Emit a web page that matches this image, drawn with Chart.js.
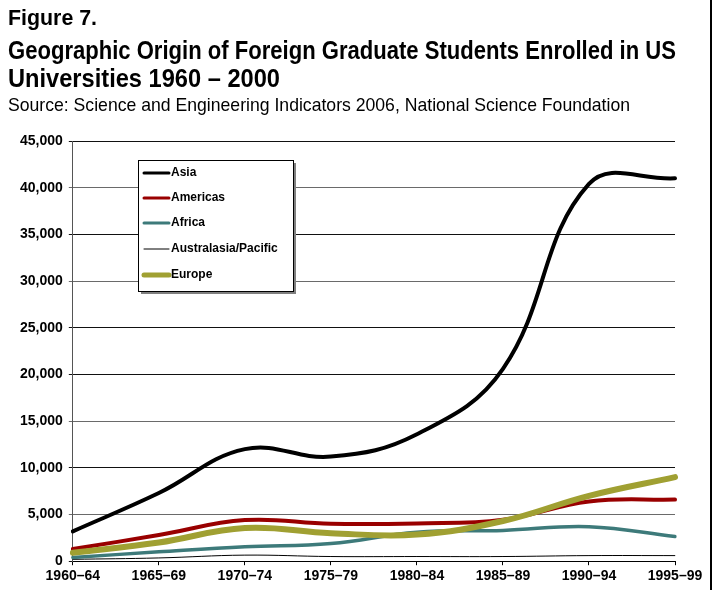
<!DOCTYPE html>
<html><head><meta charset="utf-8">
<script src="https://cdn.jsdelivr.net/npm/chart.js@4/dist/chart.umd.min.js"></script>
<style>
html,body{margin:0;padding:0;background:#fff;}
#wrap{position:relative;width:715px;height:590px;overflow:hidden;background:#fff;}
#c{position:absolute;left:0;top:0;}
.t{position:absolute;left:8px;white-space:nowrap;font-family:"Liberation Sans",Arial,sans-serif;color:#000;line-height:1;transform-origin:0 0;}
#frame{position:absolute;left:710px;top:0;width:2px;height:590px;background:#000;}
</style></head>
<body><div id="wrap">
<canvas id="c" width="715" height="590"></canvas>
<div class="t" data-w="89" style="top:7px;font-size:22px;font-weight:bold">Figure 7.</div>
<div class="t" data-w="668" style="top:37px;font-size:26px;font-weight:bold">Geographic Origin of Foreign Graduate Students Enrolled in US</div>
<div class="t" data-w="272" style="top:65px;font-size:26px;font-weight:bold">Universities 1960 – 2000</div>
<div class="t" data-w="622" style="top:95px;font-size:19px;">Source: Science and Engineering Indicators 2006, National Science Foundation</div>
<div id="frame"></div>
</div>
<script>
document.querySelectorAll('.t').forEach(el=>{
  const target=+el.dataset.w; const w=el.getBoundingClientRect().width;
  el.style.transform='scaleX('+(target/w)+')';
});

const categories = ["1960–64","1965–69","1970–74","1975–79","1980–84","1985–89","1990–94","1995–99"];
const asia        = [3200, 7300, 12000, 11200, 13600, 20600, 40400, 41000];
const americas    = [1300, 2800, 4400, 4000, 4050, 4450, 6400, 6600];
const africa      = [400, 1000, 1550, 1900, 3100, 3300, 3700, 2650];
const australasia = [200, 350, 650, 500, 500, 500, 600, 600];
const europe      = [900, 2000, 3550, 3000, 2850, 4300, 7000, 9000];
const yTicks = [0,5000,10000,15000,20000,25000,30000,35000,40000,45000];

const legendBox = {
  id:'legendBox',
  afterDatasetsDraw(chart){
    const ctx = chart.ctx;
    const x0=138, y0=160, w=155, h=131;
    ctx.save();
    ctx.fillStyle='#808080';
    ctx.fillRect(x0+3,y0+3,w,h);
    ctx.fillStyle='#fff';
    ctx.fillRect(x0,y0,w,h);
    ctx.strokeStyle='#000'; ctx.lineWidth=1;
    ctx.strokeRect(x0+0.5,y0+0.5,w,h);
    const ys=[173,198,223,249,275];
    ctx.font='bold 12px "Liberation Sans", Arial, sans-serif';
    ctx.textBaseline='middle';
    chart.data.datasets.forEach((ds,i)=>{
      ctx.strokeStyle=ds.borderColor;
      ctx.lineWidth=ds.legendWidth;
      ctx.lineCap='round';
      ctx.beginPath(); ctx.moveTo(144,ys[i]); ctx.lineTo(169,ys[i]); ctx.stroke();
      ctx.fillStyle='#000';
      ctx.fillText(ds.label,171,ys[i]);
    });
    ctx.restore();
  }
};

const gridColor = (ctx)=>{
  const v = ctx.tick && ctx.tick.value;
  return (v===40000||v===30000||v===15000||v===5000) ? '#6a6a6a' : '#111';
};

new Chart(document.getElementById('c'),{
  type:'line',
  data:{
    labels:categories,
    datasets:[
      {label:'Asia',data:asia,borderColor:'#000000',borderWidth:4,legendWidth:3,order:0},
      {label:'Americas',data:americas,borderColor:'#990000',borderWidth:4,legendWidth:3,order:2},
      {label:'Africa',data:africa,borderColor:'#3d7a7a',borderWidth:3.5,legendWidth:3,order:3},
      {label:'Australasia/Pacific',data:australasia,borderColor:'#000000',borderWidth:1,legendWidth:1,order:4},
      {label:'Europe',data:europe,borderColor:'#a0a032',borderWidth:6,legendWidth:5,order:1}
    ]
  },
  options:{
    responsive:false,
    animation:false,
    devicePixelRatio:1,
    layout:{padding:{left:14,right:40,top:141,bottom:2}},
    elements:{point:{radius:0},line:{tension:0.4,fill:false,borderCapStyle:'round',borderJoinStyle:'round'}},
    plugins:{legend:{display:false},tooltip:{enabled:false},title:{display:false}},
    scales:{
      x:{
        offset:false,
        grid:{drawOnChartArea:false,drawTicks:true,tickLength:4,color:'#000'},
        border:{color:'#000',width:1},
        ticks:{color:'#000',font:{family:'"Liberation Sans", Arial, sans-serif',size:14,weight:'bold'},maxRotation:0,padding:3}
      },
      y:{
        min:0,max:45000,
        afterBuildTicks:(s)=>{s.ticks=yTicks.map(v=>({value:v}));},
        grid:{color:gridColor,lineWidth:1,tickLength:4},
        border:{color:'#555',width:1},
        ticks:{color:'#000',padding:6,font:{family:'"Liberation Sans", Arial, sans-serif',size:14,weight:'bold'},
          callback:(v)=>v.toLocaleString('en-US')}
      }
    }
  },
  plugins:[legendBox]
});
</script>
</body></html>
